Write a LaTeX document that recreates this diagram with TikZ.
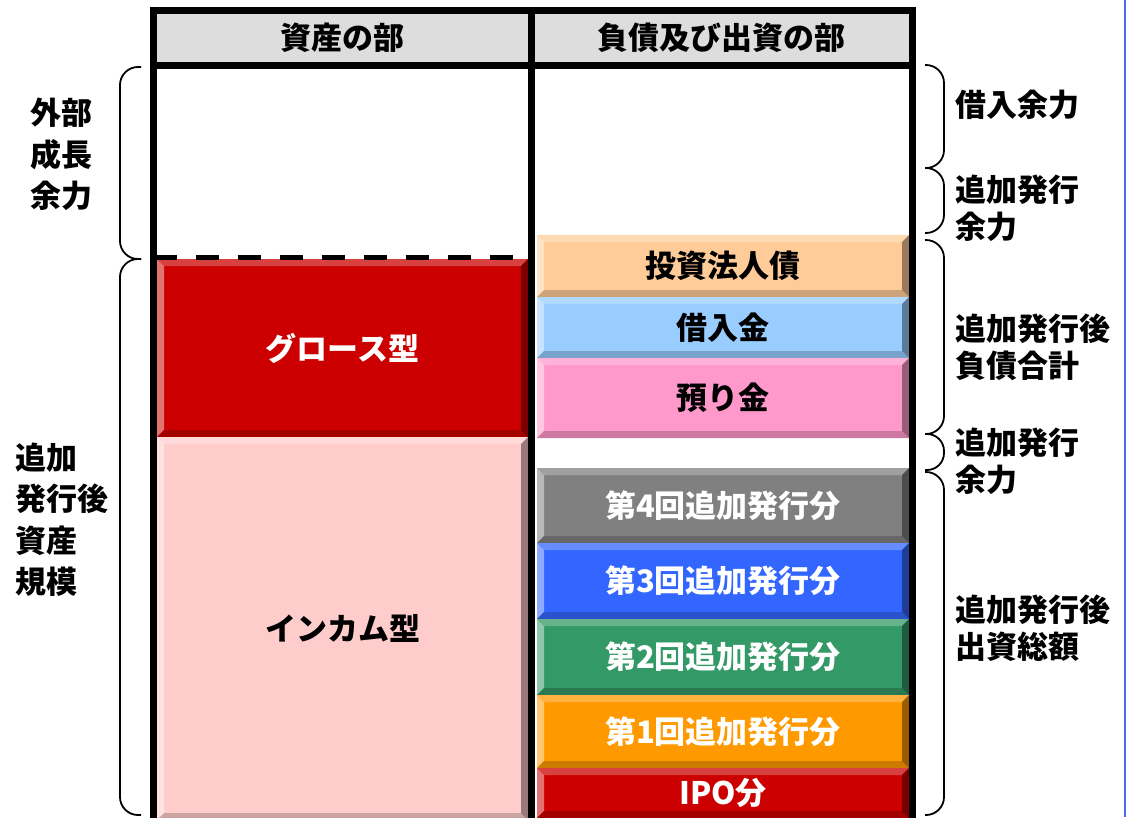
\documentclass[tikz,border=0pt]{standalone}
\usepackage{fontspec}
\newfontfamily\jpfont{Noto Sans CJK JP}
\newcommand\jptext{\jpfont\bfseries\fontsize{31}{37}\selectfont}
\usepackage{tikz}
\usetikzlibrary{
    positioning % for stacking the boxes below one another
}
\definecolor{headgray}{HTML}{DDDDDD}
\definecolor{growthred}{HTML}{CC0000}
\definecolor{incomepink}{HTML}{FFCCCC}
\definecolor{bondpeach}{HTML}{FFCC99}
\definecolor{loanblue}{HTML}{99CCFF}
\definecolor{depositpink}{HTML}{FF99CC}
\definecolor{fourthgray}{HTML}{808080}
\definecolor{thirdblue}{HTML}{3366FF}
\definecolor{secondgreen}{HTML}{339966}
\definecolor{firstorange}{HTML}{FF9900}
\definecolor{ipored}{HTML}{CC0000}
\definecolor{edgeblue}{HTML}{4A6CF7}

\begin{document}
\begin{tikzpicture}[
    x=1pt,y=-1pt,
    every node/.style = {inner sep=0pt,outer sep=0pt},
    head/.style       = {draw,line width=7pt,fill=headgray,minimum width=378pt,minimum height=55pt,font=\jptext},
    block/.style      = {fill=#1,minimum width=372pt,font=\jptext,
        path picture={
            \coordinate (bnw) at (path picture bounding box.north west);
            \coordinate (bne) at (path picture bounding box.north east);
            \coordinate (bsw) at (path picture bounding box.south west);
            \coordinate (bse) at (path picture bounding box.south east);
            \fill [#1!75!white] (bnw) -- (bne) -- ([shift={(-7pt,-7pt)}]bne) -- ([shift={(7pt,-7pt)}]bnw) -- cycle;
            \fill [#1!55!white] (bnw) -- ([shift={(7pt,-7pt)}]bnw) -- ([shift={(7pt,7pt)}]bsw) -- (bsw) -- cycle;
            \fill [#1!80!black] (bsw) -- (bse) -- ([shift={(-7pt,7pt)}]bse) -- ([shift={(7pt,7pt)}]bsw) -- cycle;
            \fill [#1!60!black] (bne) -- ([shift={(-7pt,-7pt)}]bne) -- ([shift={(-7pt,7pt)}]bse) -- (bse) -- cycle;
        }},
    rule/.style       = {line width=7pt},
    cut line/.style   = {line width=5pt,dash pattern=on 23pt off 19pt},
    bracket/.style    = {line width=1.8pt,rounded corners=18pt},
    note/.style       = {anchor=west,align=left,font=\jptext},
    side note/.style  = {note,font=\jptext\fontsize{31}{41.5}\selectfont}
]
\useasboundingbox (0,0) rectangle (1135,817);

% asset side (left column)

    \node [block=growthred,minimum width=371pt,minimum height=178pt,text=white] (growth) at (342.5,348) {グロース型};
    \node [block=incomepink,minimum width=371pt,minimum height=383pt]          (income) [below=0pt of growth] {インカム型};

% liability and equity side (right column)

    \node [block=bondpeach,minimum height=62pt]              (bond)    at (723,266)               {投資法人債};
    \node [block=loanblue,minimum height=61pt]               (loan)    [below=0pt of bond]        {借入金};
    \node [block=depositpink,minimum height=80pt]            (deposit) [below=0pt of loan]        {預り金};
    \node [block=fourthgray,minimum height=75pt,text=white]  (fourth)  [below=30pt of deposit]    {第4回追加発行分};
    \node [block=thirdblue,minimum height=76pt,text=white]   (third)   [below=0pt of fourth]      {第3回追加発行分};
    \node [block=secondgreen,minimum height=76pt,text=white] (second)  [below=0pt of third]       {第2回追加発行分};
    \node [block=firstorange,minimum height=73pt,text=white] (first)   [below=0pt of second]      {第1回追加発行分};
    \node [block=ipored,minimum height=50pt,text=white]      (ipo)     [below=0pt of first]       {IPO分};

% table frame

    \node [head] (assets) at (342.5,37.5) {資産の部};
    \node [head,minimum width=380.5pt] (liabs) [right=0pt of assets] {負債及び出資の部};

    \coordinate (floor) at (0,820);
    \draw [rule] (assets.south west) -- (assets.south west |- floor);
    \draw [rule] (assets.south east) -- (assets.south east |- floor);
    \draw [rule] (liabs.south east)  -- (liabs.south east |- floor);

    \draw [cut line] (assets.south west |- 0,257) -- (assets.south east |- 0,257);

% brackets and their labels

    \draw [bracket] (141,67)  -- (120,67)  -- (120,259) -- (141,259);
    \draw [bracket] (141,259) -- (120,259) -- (120,815) -- (141,815);

    \draw [bracket] (925,65)  -- (944,65)  -- (944,168) -- (925,168);
    \draw [bracket] (925,168) -- (944,168) -- (944,233) -- (925,233);
    \draw [bracket] (925,240) -- (944,240) -- (944,434) -- (925,434);
    \draw [bracket,rounded corners=17pt] (925,434) -- (944,434) -- (944,470) -- (925,470);
    \draw [bracket] (925,472) -- (944,472) -- (944,815) -- (925,815);

    \node [side note] (growthcap)   at (30,154.5) {外部\\成長\\余力};
    \node [side note] (assetsize)   at (15,519.5) {追加\\発行後\\資産\\規模};

    \node [note]      (borrowcap)   at (955,105)  {借入余力};
    \node [note]      (issuecap)    at (955,208)  {追加発行\\余力};
    \node [note]      (debttotal)   at (955,347)  {追加発行後\\負債合計};
    \node [note]      (issuerest)   at (955,461)  {追加発行\\余力};
    \node [note]      (equitytotal) at (955,628)  {追加発行後\\出資総額};

% page edge

    \draw [edgeblue,line width=2pt] (1125,0) -- (1125,817);

\end{tikzpicture}
\end{document}
